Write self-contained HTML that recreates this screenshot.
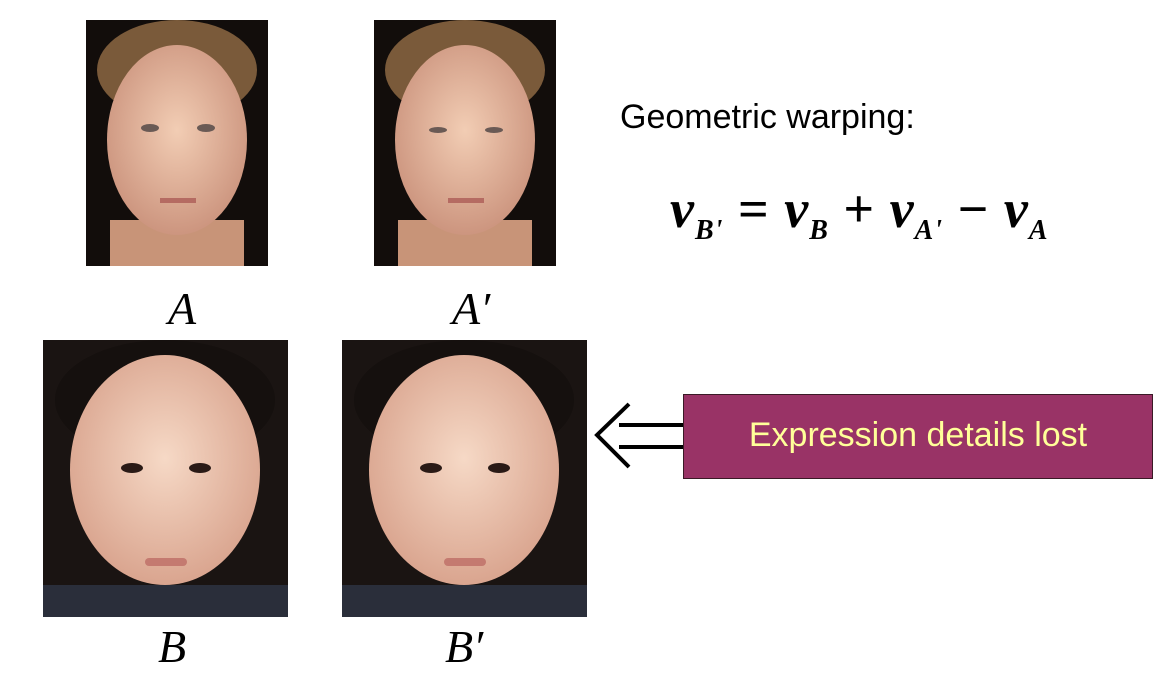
<!DOCTYPE html>
<html><head><meta charset="utf-8"><style>
body{margin:0;background:#fff;width:1169px;height:697px;overflow:hidden;position:relative;font-family:"Liberation Sans",sans-serif}
.t{position:absolute;white-space:nowrap}
.m{font-family:"Liberation Serif",serif;font-style:italic}
</style></head><body>
<svg width="1169" height="697" style="position:absolute;left:0;top:0">
<defs>
<radialGradient id="sk1" cx="50%" cy="45%" r="60%"><stop offset="0" stop-color="#f2cdb4"/><stop offset="1" stop-color="#c9907a"/></radialGradient>
<radialGradient id="sk2" cx="50%" cy="45%" r="60%"><stop offset="0" stop-color="#f6d9c6"/><stop offset="1" stop-color="#d7a08a"/></radialGradient>
</defs>
<g>
<rect x="86" y="20" width="182" height="246" fill="#120d0b"/>
<ellipse cx="177" cy="70" rx="80" ry="50" fill="#7a5a3a"/>
<rect x="110" y="220" width="134" height="46" fill="#c89478"/>
<ellipse cx="177" cy="140" rx="70" ry="95" fill="url(#sk1)"/>
<ellipse cx="150" cy="128" rx="9" ry="4" fill="#6a5a55"/><ellipse cx="206" cy="128" rx="9" ry="4" fill="#6a5a55"/>
<rect x="160" y="198" width="36" height="5" fill="#b56b62"/>
</g>
<g>
<rect x="374" y="20" width="182" height="246" fill="#120d0b"/>
<ellipse cx="465" cy="70" rx="80" ry="50" fill="#7a5a3a"/>
<rect x="398" y="220" width="134" height="46" fill="#c89478"/>
<ellipse cx="465" cy="140" rx="70" ry="95" fill="url(#sk1)"/>
<ellipse cx="438" cy="130" rx="9" ry="3" fill="#6a5a55"/><ellipse cx="494" cy="130" rx="9" ry="3" fill="#6a5a55"/>
<rect x="448" y="198" width="36" height="5" fill="#b56b62"/>
</g>
<g>
<rect x="43" y="340" width="245" height="277" fill="#1a1412"/>
<rect x="43" y="585" width="245" height="32" fill="#2a2e3a"/>
<ellipse cx="165" cy="400" rx="110" ry="60" fill="#15100e"/>
<ellipse cx="165" cy="470" rx="95" ry="115" fill="url(#sk2)"/>
<ellipse cx="132" cy="468" rx="11" ry="5" fill="#2a1a16"/><ellipse cx="200" cy="468" rx="11" ry="5" fill="#2a1a16"/>
<rect x="145" y="558" width="42" height="8" rx="4" fill="#c47a70"/>
</g>
<g>
<rect x="342" y="340" width="245" height="277" fill="#1a1412"/>
<rect x="342" y="585" width="245" height="32" fill="#2a2e3a"/>
<ellipse cx="464" cy="400" rx="110" ry="60" fill="#15100e"/>
<ellipse cx="464" cy="470" rx="95" ry="115" fill="url(#sk2)"/>
<ellipse cx="431" cy="468" rx="11" ry="5" fill="#2a1a16"/><ellipse cx="499" cy="468" rx="11" ry="5" fill="#2a1a16"/>
<rect x="444" y="558" width="42" height="8" rx="4" fill="#c47a70"/>
</g>
<g stroke="#000" stroke-width="4" fill="none">
<polyline points="629,404 597,435 629,467"/>
<line x1="619" y1="425" x2="684" y2="425"/>
<line x1="619" y1="447" x2="684" y2="447"/>
</g>
<rect x="683.5" y="394.5" width="469" height="84" fill="#993366" stroke="#3a1a26" stroke-width="1"/>
</svg>
<div class="t m" style="left:168px;top:282px;font-size:46px">A</div>
<div class="t m" style="left:452px;top:282px;font-size:46px">A′</div>
<div class="t m" style="left:158px;top:620px;font-size:46px">B</div>
<div class="t m" style="left:445px;top:620px;font-size:46px">B′</div>
<div class="t" style="left:620px;top:98px;font-size:34px;color:#000">Geometric warping:</div>
<div class="t m" style="left:670px;top:178px;font-size:54px;font-weight:bold;letter-spacing:1px">v<sub style="font-size:28px">B'</sub> <span style="font-style:normal">=</span> v<sub style="font-size:28px">B</sub> <span style="font-style:normal">+</span> v<sub style="font-size:28px">A'</sub> <span style="font-style:normal">−</span> v<sub style="font-size:28px">A</sub></div>
<div class="t" style="left:683px;top:416px;width:470px;text-align:center;font-size:34px;color:#ffff99">Expression details lost</div>
</body></html>
